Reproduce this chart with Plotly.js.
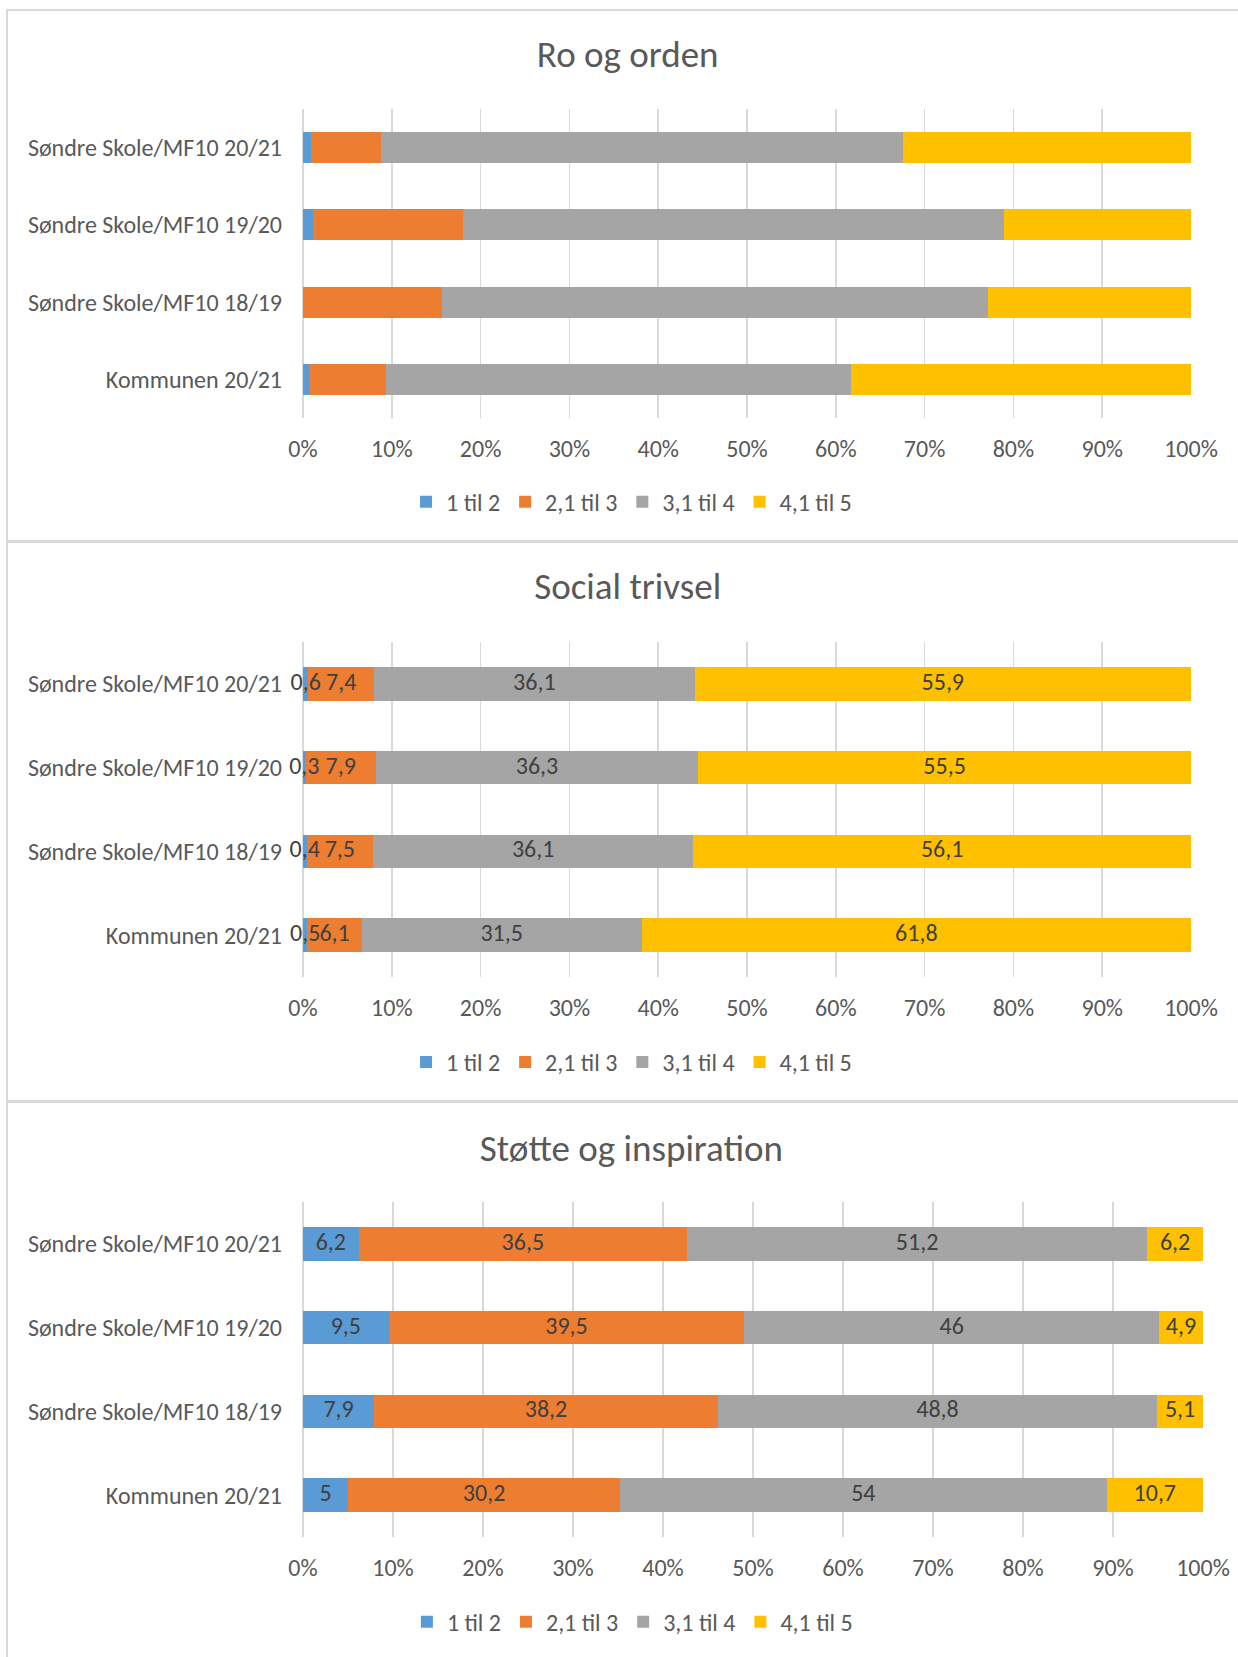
<!DOCTYPE html>
<html>
<head>
<meta charset="utf-8">
<script src="https://cdn.plot.ly/plotly-3.0.1.min.js"></script>
<style>
  body { margin: 0; background: #fff; }
  .panel { position: absolute; left: 0; width: 1238px; }
  .line { position: absolute; background: #d9d9d9; z-index: 10; }
</style>
</head>
<body>
<div id="chart-ro" class="panel" style="top:0; height:541px;"></div>
<div id="chart-social" class="panel" style="top:541px; height:560px;"></div>
<div id="chart-stotte" class="panel" style="top:1101px; height:556px;"></div>
<!-- rammer rundt de tre diagrammene -->
<div class="line" style="left:6px; top:9px; width:2px; height:1648px;"></div>
<div class="line" style="left:6px; top:9px; width:1232px; height:2px;"></div>
<div class="line" style="left:6px; top:540px; width:1232px; height:3px;"></div>
<div class="line" style="left:6px; top:1100px; width:1232px; height:3px;"></div>
<script>
// Kategorier (øverst til nederst) og serier
var kategorier = ['Søndre Skole/MF10 20/21', 'Søndre Skole/MF10 19/20', 'Søndre Skole/MF10 18/19', 'Kommunen 20/21'];
var serier = ['1 til 2', '2,1 til 3', '3,1 til 4', '4,1 til 5'];
var farger = ['#5B9BD5', '#ED7D31', '#A5A5A5', '#FFC000'];

// Ro og orden (ingen dataetiketter, lest av fra figuren)
var ro_1til2 = [0.9, 1.1, 0, 0.7];
var ro_2til3 = [7.9, 16.9, 15.7, 8.7];
var ro_3til4 = [58.8, 60.9, 61.4, 52.3];
var ro_4til5 = [32.4, 21.1, 22.9, 38.3];

// Social trivsel
var social_1til2 = [0.6, 0.3, 0.4, 0.5];
var social_2til3 = [7.4, 7.9, 7.5, 6.1];
var social_3til4 = [36.1, 36.3, 36.1, 31.5];
var social_4til5 = [55.9, 55.5, 56.1, 61.8];

// Støtte og inspiration
var stotte_1til2 = [6.2, 9.5, 7.9, 5];
var stotte_2til3 = [36.5, 39.5, 38.2, 30.2];
var stotte_3til4 = [51.2, 46, 48.8, 54];
var stotte_4til5 = [6.2, 4.9, 5.1, 10.7];

var font = 'Carlito, Lato, sans-serif';

function fmt(v) { return String(v).replace('.', ','); }

function lagDiagram(divId, tittel, verdier, visEtiketter, o) {
    var data = verdier.map(function (vals, i) {
        return {
            type: 'bar',
            orientation: 'h',
            y: kategorier,
            x: vals,
            name: serier[i],
            marker: {color: farger[i]},
            textposition: 'none',
            hoverinfo: 'skip'
        };
    });

    // dataetiketter som egne teksttraces, slik at de ligger over alle stolpene
    if (visEtiketter) {
        var summer = kategorier.map(function (k, j) {
            return verdier.reduce(function (s, v) { return s + v[j]; }, 0);
        });
        var start = kategorier.map(function () { return 0; });
        verdier.forEach(function (vals) {
            var midt = vals.map(function (v, j) {
                return (start[j] + v / 2) / summer[j] * 100;
            });
            vals.forEach(function (v, j) { start[j] += v; });
            data.push({
                type: 'scatter',
                mode: 'text',
                y: kategorier,
                x: midt,
                text: vals.map(fmt),
                textposition: 'middle center',
                textfont: {family: font, size: 24, color: '#404040'},
                cliponaxis: false,
                showlegend: false,
                hoverinfo: 'skip'
            });
        });
    }

    var layout = {
        width: 1238,
        height: o.height,
        margin: {l: 303, r: o.r, t: o.t, b: o.b},
        paper_bgcolor: 'rgba(0,0,0,0)',
        plot_bgcolor: 'rgba(0,0,0,0)',
        barmode: 'stack',
        barnorm: 'percent',
        bargap: 0.6,
        title: {
            text: tittel,
            x: o.titleX, xref: 'container', xanchor: 'center',
            y: o.titleY, yref: 'container', yanchor: 'middle',
            font: {family: font, size: 37, color: '#595959'}
        },
        xaxis: {
            range: [0, 100],
            tick0: 0,
            dtick: 10,
            ticksuffix: '%',
            showgrid: true,
            gridcolor: '#d9d9d9',
            gridwidth: 1.5,
            zeroline: true,
            zerolinecolor: '#d9d9d9',
            zerolinewidth: 1.5,
            showline: false,
            ticks: '',
            ticklabelstandoff: 14,
            tickfont: {family: font, size: 24, color: '#595959'}
        },
        yaxis: {
            type: 'category',
            autorange: 'reversed',
            showgrid: false,
            zeroline: false,
            showline: false,
            ticks: '',
            ticklabelstandoff: 20,
            tickfont: {family: font, size: 24, color: '#595959'}
        },
        showlegend: true,
        legend: {
            orientation: 'h',
            traceorder: 'normal',
            x: o.legendX, xanchor: 'center',
            y: o.legendY, yanchor: 'middle',
            font: {family: font, size: 24, color: '#595959'}
        }
    };

    Plotly.newPlot(divId, data, layout, {staticPlot: true, displayModeBar: false});
}

lagDiagram('chart-ro', 'Ro og orden',
    [ro_1til2, ro_2til3, ro_3til4, ro_4til5], false,
    {height: 541, t: 109, b: 123, r: 47, titleX: 0.507, titleY: 0.901, legendX: 0.37, legendY: -0.272});

lagDiagram('chart-social', 'Social trivsel',
    [social_1til2, social_2til3, social_3til4, social_4til5], true,
    {height: 560, t: 101, b: 123.5, r: 47, titleX: 0.507, titleY: 0.92, legendX: 0.37, legendY: -0.255});

lagDiagram('chart-stotte', 'Støtte og inspiration',
    [stotte_1til2, stotte_2til3, stotte_3til4, stotte_4til5], true,
    {height: 556, t: 101, b: 116, r: 35, titleX: 0.51, titleY: 0.915, legendX: 0.366, legendY: -0.254});
</script>
</body>
</html>
